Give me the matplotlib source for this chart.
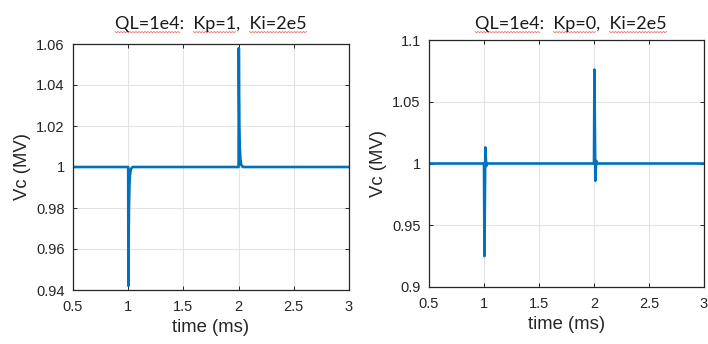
import numpy as np
import matplotlib
matplotlib.use('Agg')
import matplotlib.pyplot as plt
from matplotlib.lines import Line2D

plt.rcParams['font.family'] = ['Liberation Sans', 'DejaVu Sans']

# left case: Kp=1, Ki=2e5
t_left = [0.5, 1.0, 1.002, 1.004, 1.007, 1.011, 1.016, 1.024, 1.04,
          2.0, 2.002, 2.004, 2.007, 2.011, 2.016, 2.024, 2.04, 3.0]
v_left = [1.0, 1.0, 0.942, 0.962, 0.980, 0.991, 0.996, 0.999, 1.0,
          1.0, 1.058, 1.038, 1.020, 1.009, 1.004, 1.001, 1.0, 1.0]

# right case: Kp=0, Ki=2e5
t_right = [0.5, 1.0, 1.004, 1.008, 1.012, 1.016, 1.022, 1.03,
           2.0, 2.004, 2.008, 2.012, 2.016, 2.022, 2.03, 3.0]
v_right = [1.0, 1.0, 0.925, 0.970, 1.013, 1.005, 0.998, 1.0,
           1.0, 1.076, 1.030, 0.986, 0.995, 1.002, 1.0, 1.0]

xticks = [0.5, 1, 1.5, 2, 2.5, 3]
xticklabels = ['0.5', '1', '1.5', '2', '2.5', '3']
yticks_left = [0.94, 0.96, 0.98, 1.0, 1.02, 1.04, 1.06]
yticklabels_left = ['0.94', '0.96', '0.98', '1', '1.02', '1.04', '1.06']
yticks_right = [0.9, 0.95, 1.0, 1.05, 1.1]
yticklabels_right = ['0.9', '0.95', '1', '1.05', '1.1']

titles = [['QL=1e4', ':  ', 'Kp=1', ',  ', 'Ki=2e5'],
          ['QL=1e4', ':  ', 'Kp=0', ',  ', 'Ki=2e5']]

W, H = 708, 344
fig = plt.figure(figsize=(W / 100, H / 100), dpi=100)
ax1 = fig.add_axes([73 / W, 1 - 290 / H, 276 / W, 246 / H])
ax2 = fig.add_axes([429 / W, 1 - 287 / H, 275 / W, 247 / H])

line_col = '#0072BD'
axis_col = '#262626'

def style(ax, yt, ytl):
    ax.set_xlim(0.5, 3)
    ax.set_ylim(yt[0], yt[-1])
    ax.set_xticks(xticks)
    ax.set_xticklabels(xticklabels)
    ax.set_yticks(yt)
    ax.set_yticklabels(ytl)
    ax.grid(True, color='#e3e3e3', linewidth=0.8)
    ax.set_axisbelow(True)
    ax.tick_params(direction='in', length=3, width=0.7, colors=axis_col,
                   labelsize=10.5, top=True, right=True, pad=6)
    ax.tick_params(axis='x', pad=7)
    for s in ax.spines.values():
        s.set_color(axis_col)
        s.set_linewidth(0.9)
    ax.set_xlabel('time (ms)', fontsize=13.3, color='#262626', labelpad=4)
    ax.set_ylabel('Vc (MV)', fontsize=13.3, color='#262626', labelpad=4)

ax1.plot(t_left, v_left, color=line_col, linewidth=1.9)
style(ax1, yticks_left, yticklabels_left)
ax2.plot(t_right, v_right, color=line_col, linewidth=1.9)
style(ax2, yticks_right, yticklabels_right)

# titles (text boxes) with spell-check squiggles
fig.canvas.draw()
renderer = fig.canvas.get_renderer()
title_x = [115, 475]
title_base = 29
fs = 13
for parts, x0 in zip(titles, title_x):
    full = ''.join(parts)
    fig.text(x0 / W, 1 - title_base / H, full, fontsize=fs, family='Lato',
             ha='left', va='baseline', color='#1a1a1a')
    pre = ''
    for i, p in enumerate(parts):
        if i % 2 == 0:
            tmp = fig.text(0, 0, pre + p, fontsize=fs, family='Lato')
            w_all = tmp.get_window_extent(renderer).width
            tmp.set_text(p)
            w_p = tmp.get_window_extent(renderer).width
            tmp.remove()
            xs = np.arange(x0 + w_all - w_p, x0 + w_all, 1.5)
            ys = title_base + 2.5 + np.where(np.arange(len(xs)) % 2 == 0, 0, 1.2)
            fig.add_artist(Line2D(xs / W, 1 - ys / H, color='#e87070',
                                  linewidth=0.6, transform=fig.transFigure))
        pre += p

fig.savefig('out.png', dpi=100)
